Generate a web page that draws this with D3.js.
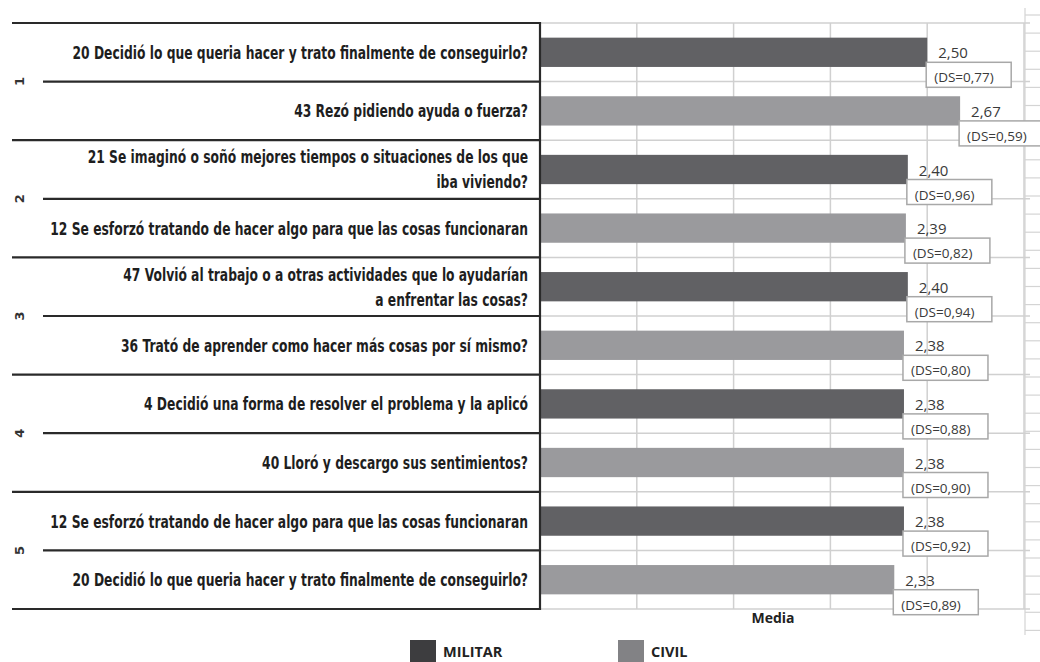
<!DOCTYPE html>
<html>
<head>
<meta charset="utf-8">
<script src="https://cdn.jsdelivr.net/npm/d3@7"></script>
<style>
  body { margin: 0; background: #fff; }
</style>
</head>
<body>
<script>
// tamaño del lienzo
let width = 1040;
let height = 662;

// datos
let grupos = ['1', '2', '3', '4', '5'];
let series = ['MILITAR', 'CIVIL'];
let preguntas = [
  ['20 Decidió lo que queria hacer y trato finalmente de conseguirlo?'],
  ['43 Rezó pidiendo ayuda o fuerza?'],
  ['21 Se imaginó o soñó mejores tiempos o situaciones de los que', 'iba viviendo?'],
  ['12 Se esforzó tratando de hacer algo para que las cosas funcionaran'],
  ['47 Volvió al trabajo o a otras actividades que lo ayudarían', 'a enfrentar las cosas?'],
  ['36 Trató de aprender como hacer más cosas por sí mismo?'],
  ['4 Decidió una forma de resolver el problema y la aplicó'],
  ['40 Lloró y descargo sus sentimientos?'],
  ['12 Se esforzó tratando de hacer algo para que las cosas funcionaran'],
  ['20 Decidió lo que queria hacer y trato finalmente de conseguirlo?'],
];
let medias = [2.50, 2.67, 2.40, 2.39, 2.40, 2.38, 2.38, 2.38, 2.38, 2.33];
let desvios = [0.77, 0.59, 0.96, 0.82, 0.94, 0.80, 0.88, 0.90, 0.92, 0.89];
let xTicks = [0.5, 1, 1.5, 2, 2.5, 3];

let colores = { MILITAR: '#616164', CIVIL: '#9a9a9d' };
let coloresLeyenda = { MILITAR: '#3d3d3f', CIVIL: '#828285' };

let fmt = v => d3.format('.2f')(v).replace('.', ',');

let margin = { top: 23, bottom: 609, left: 540, right: 1024 };

let x = d3.scaleLinear()
  .domain([0.5, 3])
  .range([margin.left, margin.right]);

let y = d3.scaleBand()
  .domain(d3.range(medias.length))
  .range([margin.top, margin.bottom])
  .paddingInner(0.5)
  .paddingOuter(0.25);

let step = y.step();
let rowTop = i => margin.top + i * step;

let svg = d3.select('body')
  .append('svg')
  .attr('width', width)
  .attr('height', height);

// rejilla de fondo a la derecha (hoja de cálculo)
let hoja = svg.append('g').attr('stroke', '#d4d4d4').attr('stroke-width', 1.2);
hoja.append('line')
  .attr('x1', 1025).attr('x2', 1025).attr('y1', 8).attr('y2', 635);
hoja.selectAll('.hl')
  .data(d3.range(15, 635, 18.1))
  .join('line')
  .attr('x1', 1025).attr('x2', 1040)
  .attr('y1', d => d).attr('y2', d => d);

// rejilla del gráfico
let grid = svg.append('g').attr('stroke', '#d0d0d0').attr('stroke-width', 1.5);
grid.selectAll('.v')
  .data(xTicks.slice(1))
  .join('line')
  .attr('x1', d => x(d)).attr('x2', d => x(d))
  .attr('y1', margin.top).attr('y2', margin.bottom);
grid.selectAll('.h')
  .data(d3.range(medias.length + 1))
  .join('line')
  .attr('x1', margin.left).attr('x2', 1030)
  .attr('y1', d => rowTop(d)).attr('y2', d => rowTop(d));

// barras
svg.append('g')
  .selectAll('rect')
  .data(medias)
  .join('rect')
  .attr('x', x(0.5))
  .attr('y', (d, i) => y(i))
  .attr('width', d => x(d) - x(0.5))
  .attr('height', y.bandwidth())
  .attr('fill', (d, i) => colores[series[i % 2]]);

// etiquetas de valor
let etq = svg.append('g')
  .attr('font-family', '"Open Sans", "Noto Sans", sans-serif');

etq.selectAll('.valor')
  .data(medias)
  .join('text')
  .attr('x', d => x(d) + 11)
  .attr('y', (d, i) => y(i) + y.bandwidth() / 2 + 6)
  .attr('font-size', 15)
  .attr('fill', '#3a3a3a')
  .text(d => fmt(d));

etq.selectAll('.caja')
  .data(medias)
  .join('rect')
  .attr('x', d => x(d) - 1)
  .attr('y', (d, i) => y(i) + y.bandwidth() / 2 + 10)
  .attr('width', 85)
  .attr('height', 25)
  .attr('fill', '#fff')
  .attr('stroke', '#a8a8a8')
  .attr('stroke-width', 1.5);

etq.selectAll('.ds')
  .data(medias)
  .join('text')
  .attr('x', d => x(d) + 7)
  .attr('y', (d, i) => y(i) + y.bandwidth() / 2 + 30)
  .attr('font-size', 13.5)
  .attr('fill', '#3a3a3a')
  .text((d, i) => `(DS=${fmt(desvios[i])})`);

// tabla de la izquierda
let tabla = svg.append('g').attr('stroke', '#2a2a2a').attr('stroke-width', 2.2);
tabla.selectAll('line')
  .data(d3.range(medias.length + 1))
  .join('line')
  .attr('x1', d => d % 2 === 0 ? 12 : 43)
  .attr('x2', margin.left)
  .attr('y1', d => rowTop(d)).attr('y2', d => rowTop(d));
tabla.append('line')
  .attr('x1', margin.left).attr('x2', margin.left)
  .attr('y1', margin.top - 1).attr('y2', margin.bottom + 1);

let labelFont = '"DejaVu Sans", sans-serif';

// texto estrecho: se dibuja a 18px y se comprime en horizontal
let labels = svg.append('g')
  .attr('font-family', labelFont)
  .attr('font-weight', 'bold')
  .attr('font-size', 18)
  .attr('fill', '#1e1e1e')
  .attr('text-anchor', 'end');

let filas = labels.selectAll('text')
  .data(preguntas)
  .join('text');

filas.each(function(lines, i) {
  let c = y(i) + y.bandwidth() / 2;
  let t = d3.select(this);
  lines.forEach((l, k) => {
    let off = lines.length === 1 ? 0 : (k === 0 ? -12.5 : 12.5);
    t.append('tspan')
      .attr('x', 0)
      .attr('y', c + off + 6.5)
      .text(l);
  });
});

let w0 = filas.nodes()[0].getComputedTextLength();
let sx = 456 / w0;
labels.attr('transform', `translate(528,0) scale(${sx},1)`);

// números de grupo
svg.append('g')
  .selectAll('text')
  .data(grupos)
  .join('text')
  .attr('transform', (d, g) => `translate(24,${rowTop(g * 2 + 1)}) rotate(-90)`)
  .attr('text-anchor', 'middle')
  .attr('font-family', labelFont)
  .attr('font-weight', 'bold')
  .attr('font-size', 13)
  .attr('fill', '#333')
  .text(d => d);

// título del eje
svg.append('text')
  .attr('x', 773)
  .attr('y', 623)
  .attr('text-anchor', 'middle')
  .attr('font-family', '"Open Sans", sans-serif')
  .attr('font-weight', 'bold')
  .attr('font-size', 14)
  .attr('fill', '#222')
  .text('Media');

// leyenda
let legX = [410, 618];
let leg = svg.append('g')
  .selectAll('g')
  .data(series)
  .join('g')
  .attr('transform', (d, i) => `translate(${legX[i]},640)`);
leg.append('rect')
  .attr('width', 26)
  .attr('height', 24)
  .attr('fill', d => coloresLeyenda[d]);
leg.append('text')
  .attr('x', 33)
  .attr('y', 17)
  .attr('font-family', '"Open Sans", sans-serif')
  .attr('font-weight', 'bold')
  .attr('font-size', 14.5)
  .attr('fill', '#222')
  .text(d => d);
</script>
</body>
</html>
